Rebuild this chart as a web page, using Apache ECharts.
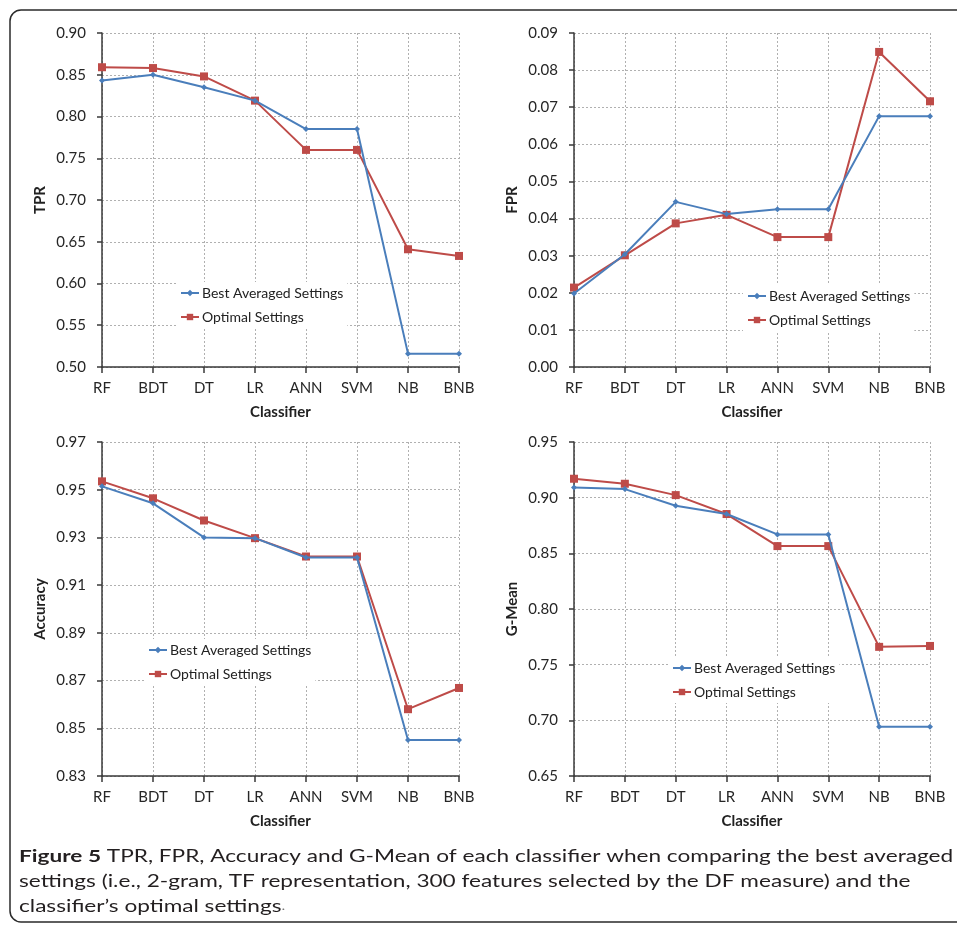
<!DOCTYPE html>
<html>
<head>
<meta charset="utf-8">
<script src="https://cdn.jsdelivr.net/npm/echarts@6/dist/echarts.min.js"></script>
<style>
html,body{margin:0;padding:0;background:#fff;}
#chart{width:957px;height:925px;}
</style>
</head>
<body>
<div id="chart"></div>
<script>
const classifiers = ['RF','BDT','DT','LR','ANN','SVM','NB','BNB'];

const tprBest    = [0.843, 0.850, 0.835, 0.819, 0.785, 0.785, 0.516, 0.516];
const tprOptimal = [0.859, 0.858, 0.848, 0.819, 0.760, 0.760, 0.641, 0.633];

const fprBest    = [0.0198, 0.0304, 0.0445, 0.0412, 0.0425, 0.0425, 0.0676, 0.0676];
const fprOptimal = [0.0214, 0.0301, 0.0387, 0.0410, 0.0350, 0.0350, 0.0849, 0.0716];

const accBest    = [0.9514, 0.9443, 0.9300, 0.9297, 0.9216, 0.9216, 0.8451, 0.8451];
const accOptimal = [0.9535, 0.9464, 0.9371, 0.9297, 0.9220, 0.9220, 0.8580, 0.8669];

const gmBest     = [0.9092, 0.9077, 0.8927, 0.8853, 0.8670, 0.8670, 0.6943, 0.6943];
const gmOptimal  = [0.9170, 0.9125, 0.9023, 0.8853, 0.8565, 0.8565, 0.7660, 0.7668];

const panelTitles = ['TPR','FPR','Accuracy','G-Mean'];
const xAxisTitle = 'Classifier';
const legendNames = ['Best Averaged Settings','Optimal Settings'];
const yRanges = [[0.50,0.90,0.05],[0.00,0.09,0.01],[0.83,0.97,0.02],[0.65,0.95,0.05]];
const captionBold = 'Figure 5';
const captionLines = [
  ' TPR, FPR, Accuracy and G-Mean of each classifier when comparing the best averaged',
  'settings (i.e., 2-gram, TF representation, 300 features selected by the DF measure) and the',
  'classifier\u2019s optimal settings'
];

const FONT = 'Lato';
const BLUE = '#4A7EBB';
const RED = '#BE4B48';
const AX = '#3a3a3a';

const grids = [
  {left:102, top:33, width:357, height:334},
  {left:574, top:33, width:356, height:334},
  {left:102, top:442, width:357, height:334},
  {left:574, top:442, width:356, height:334}
];
const legendPos = [[176,282],[743,285],[144,639],[668,657]];
const bestData = [tprBest, fprBest, accBest, gmBest];
const optData = [tprOptimal, fprOptimal, accOptimal, gmOptimal];

const xAxes = grids.map((g,i)=>({
  type:'category', gridIndex:i, data:classifiers, boundaryGap:false,
  name:xAxisTitle, nameLocation:'middle', nameGap:38,
  nameTextStyle:{fontFamily:FONT,fontWeight:'bold',fontSize:15,color:'#222'},
  axisLine:{lineStyle:{color:AX,width:1.5}},
  axisTick:{show:true,length:6,alignWithLabel:true,lineStyle:{color:AX,width:1.5}},
  axisLabel:{fontFamily:FONT,fontSize:15,color:'#262626',margin:14,interval:0},
  splitLine:{show:true,lineStyle:{color:'#b0b0b0',type:[2,2],width:1}}
}));
const yAxes = grids.map((g,i)=>({
  type:'value', gridIndex:i, min:yRanges[i][0], max:yRanges[i][1], interval:yRanges[i][2],
  name:panelTitles[i], nameLocation:'middle', nameGap:54,
  nameTextStyle:{fontFamily:FONT,fontWeight:'bold',fontSize:15,color:'#222'},
  axisLine:{show:true,lineStyle:{color:AX,width:1.5}},
  axisTick:{show:true,length:5,lineStyle:{color:AX,width:1.5}},
  axisLabel:{fontFamily:FONT,fontSize:15,color:'#262626',margin:16,
    formatter:v=>v.toFixed(2)},
  splitLine:{show:true,lineStyle:{color:'#b0b0b0',type:[2,2],width:1}}
}));
const series = [];
grids.forEach((g,i)=>{
  series.push({name:legendNames[0],type:'line',xAxisIndex:i,yAxisIndex:i,data:bestData[i],
    symbol:'diamond',symbolSize:6,lineStyle:{color:BLUE,width:2},itemStyle:{color:BLUE},z:3});
  series.push({name:legendNames[1],type:'line',xAxisIndex:i,yAxisIndex:i,data:optData[i],
    symbol:'rect',symbolSize:8,lineStyle:{color:RED,width:2},itemStyle:{color:RED},z:2});
});
const legends = legendPos.map(p=>({
  orient:'vertical', left:p[0], top:p[1], itemWidth:18, itemHeight:8, itemGap:10,
  padding:4, backgroundColor:'#fff', data:legendNames,
  textStyle:{fontFamily:FONT,fontSize:14,color:'#222',padding:[0,0,0,-2]}
}));

const chart = echarts.init(document.getElementById('chart'), null, {renderer:'canvas'});
chart.setOption({
  animation:false,
  backgroundColor:'#fff',
  grid:grids,
  xAxis:xAxes,
  yAxis:yAxes,
  series:series,
  legend:legends,
  graphic:[{
    type:'rect', shape:{x:10,y:10,width:980,height:912,r:11},
    style:{fill:'none',stroke:'#2a2a2a',lineWidth:1.5}, silent:true, z:-1
  },{
    type:'text', x:19, y:844, scaleX:1.33, silent:true,
    style:{
      text:'{b|'+captionBold+'}'+captionLines[0]+'\n'+captionLines[1]+'\n'+captionLines[2]+'{d|.}',
      fontFamily:FONT, fontSize:17, fill:'#231f20', lineHeight:25,
      rich:{
        b:{fontFamily:FONT,fontSize:17,fontWeight:'bold',fill:'#231f20',lineHeight:25},
        d:{fontFamily:FONT,fontSize:12,fill:'#777',lineHeight:25}
      }
    }
  }]
});
</script>
</body>
</html>
